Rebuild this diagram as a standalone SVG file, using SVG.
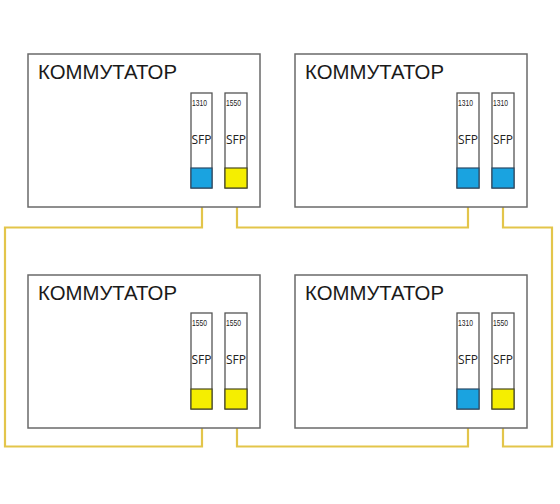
<svg xmlns="http://www.w3.org/2000/svg" width="560" height="504" viewBox="0 0 560 504">
<style>
.box{fill:#fff;stroke:#6a6a6a;stroke-width:1.5}
.title{font-family:"Liberation Sans","DejaVu Sans",sans-serif;font-size:20px;fill:#1a1a1a}
.mod{fill:#fff;stroke:#555;stroke-width:1.3}
.wl{font-family:"Liberation Sans Narrow","Liberation Sans",sans-serif;font-size:9.5px;fill:#222}
.sfp{font-family:"Open Sans","Liberation Sans",sans-serif;font-size:12px;fill:#222;text-anchor:middle}
.blue{fill:#1aa3e0;stroke:#2a4a66;stroke-width:1.2}
.yel{fill:#f5ee00;stroke:#4a4a22;stroke-width:1.2}
.fiber{fill:none;stroke:#e3c54a;stroke-width:2.2;stroke-linejoin:miter}
</style>
<rect width="560" height="504" fill="#fff"/>
<g id="connectors">
<path class="fiber" d="M202,189 V227.5 H5 V446.5 H202 V409"/>
<path class="fiber" d="M237,189 V227.5 H468 V189"/>
<path class="fiber" d="M503,189 V227.5 H552 V446.5 H503 V409"/>
<path class="fiber" d="M237,409 V446.5 H468 V409"/>
</g>
<g id="switch1">
<rect class="box" x="28" y="54" width="232" height="153"/>
<text class="title" x="38" y="79" textLength="139" lengthAdjust="spacingAndGlyphs">КОММУТАТОР</text>
<rect class="mod" x="191" y="93" width="21" height="95"/>
<rect class="blue" x="191" y="168" width="21" height="20"/>
<text class="wl" x="192" y="106" textLength="15" lengthAdjust="spacingAndGlyphs">1310</text>
<text class="sfp" x="201.5" y="144">SFP</text>
<rect class="mod" x="225" y="93" width="22" height="95"/>
<rect class="yel" x="225" y="168" width="22" height="20"/>
<text class="wl" x="226" y="106" textLength="15" lengthAdjust="spacingAndGlyphs">1550</text>
<text class="sfp" x="236" y="144">SFP</text>
</g>
<g id="switch2">
<rect class="box" x="295" y="54" width="232" height="153"/>
<text class="title" x="305" y="79" textLength="139" lengthAdjust="spacingAndGlyphs">КОММУТАТОР</text>
<rect class="mod" x="457" y="93" width="22" height="95"/>
<rect class="blue" x="457" y="168" width="22" height="20"/>
<text class="wl" x="458" y="106" textLength="15" lengthAdjust="spacingAndGlyphs">1310</text>
<text class="sfp" x="468" y="144">SFP</text>
<rect class="mod" x="492" y="93" width="22" height="95"/>
<rect class="blue" x="492" y="168" width="22" height="20"/>
<text class="wl" x="493" y="106" textLength="15" lengthAdjust="spacingAndGlyphs">1310</text>
<text class="sfp" x="503" y="144">SFP</text>
</g>
<g id="switch3">
<rect class="box" x="28" y="275" width="232" height="153"/>
<text class="title" x="38" y="300" textLength="139" lengthAdjust="spacingAndGlyphs">КОММУТАТОР</text>
<rect class="mod" x="191" y="313" width="21" height="96"/>
<rect class="yel" x="191" y="389" width="21" height="20"/>
<text class="wl" x="192" y="326" textLength="15" lengthAdjust="spacingAndGlyphs">1550</text>
<text class="sfp" x="201.5" y="364">SFP</text>
<rect class="mod" x="225" y="313" width="22" height="96"/>
<rect class="yel" x="225" y="389" width="22" height="20"/>
<text class="wl" x="226" y="326" textLength="15" lengthAdjust="spacingAndGlyphs">1550</text>
<text class="sfp" x="236" y="364">SFP</text>
</g>
<g id="switch4">
<rect class="box" x="295" y="275" width="232" height="153"/>
<text class="title" x="305" y="300" textLength="139" lengthAdjust="spacingAndGlyphs">КОММУТАТОР</text>
<rect class="mod" x="457" y="313" width="22" height="96"/>
<rect class="blue" x="457" y="389" width="22" height="20"/>
<text class="wl" x="458" y="326" textLength="15" lengthAdjust="spacingAndGlyphs">1310</text>
<text class="sfp" x="468" y="364">SFP</text>
<rect class="mod" x="492" y="313" width="22" height="96"/>
<rect class="yel" x="492" y="389" width="22" height="20"/>
<text class="wl" x="493" y="326" textLength="15" lengthAdjust="spacingAndGlyphs">1550</text>
<text class="sfp" x="503" y="364">SFP</text>
</g>
</svg>
